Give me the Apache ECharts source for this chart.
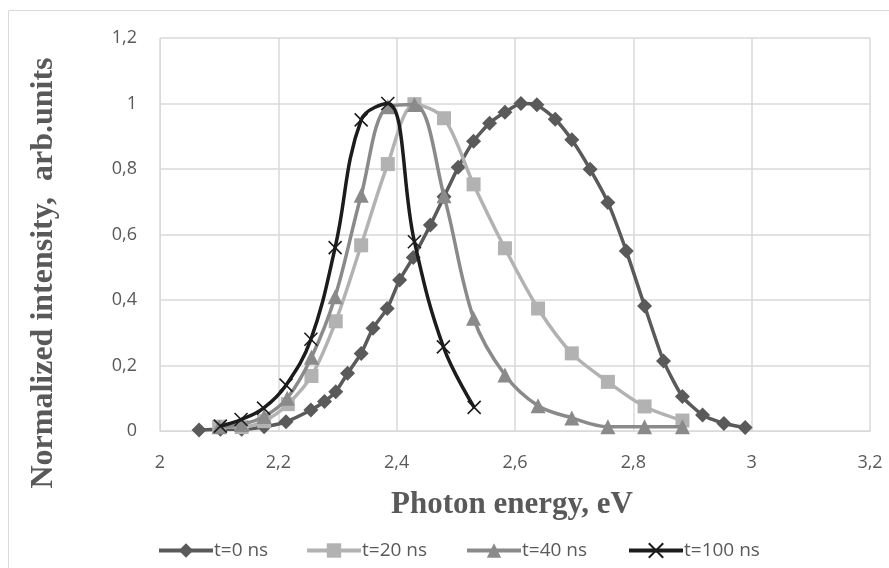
<!DOCTYPE html>
<html>
<head>
<meta charset="utf-8">
<script src="https://cdn.jsdelivr.net/npm/echarts@6/dist/echarts.min.js"></script>
<style>html,body{margin:0;padding:0;background:#fff;}#c{width:889px;height:568px;}</style>
</head>
<body>
<div id="c"></div>
<script>
const seriesNames = ['t=0 ns', 't=20 ns', 't=40 ns', 't=100 ns'];

const t0x = [2.066, 2.102, 2.138, 2.176, 2.213, 2.255, 2.278, 2.297, 2.317, 2.340, 2.360, 2.384, 2.405, 2.428, 2.457, 2.480, 2.504, 2.530, 2.557, 2.583, 2.610, 2.637, 2.668, 2.696, 2.727, 2.757, 2.788, 2.819, 2.851, 2.883, 2.917, 2.953, 2.989];
const t0y = [0.003, 0.005, 0.005, 0.013, 0.028, 0.064, 0.090, 0.120, 0.176, 0.237, 0.314, 0.374, 0.461, 0.530, 0.629, 0.715, 0.805, 0.885, 0.940, 0.973, 1.000, 0.996, 0.952, 0.889, 0.799, 0.698, 0.550, 0.382, 0.214, 0.105, 0.049, 0.023, 0.011];

const t20x = [2.100, 2.138, 2.176, 2.216, 2.256, 2.297, 2.340, 2.385, 2.430, 2.480, 2.530, 2.583, 2.639, 2.696, 2.757, 2.819, 2.883];
const t20y = [0.013, 0.012, 0.030, 0.082, 0.168, 0.335, 0.567, 0.815, 0.998, 0.955, 0.753, 0.558, 0.374, 0.237, 0.150, 0.075, 0.032];

const t40x = [2.100, 2.138, 2.176, 2.215, 2.256, 2.296, 2.340, 2.385, 2.430, 2.480, 2.530, 2.583, 2.639, 2.696, 2.757, 2.819, 2.883];
const t40y = [0.013, 0.020, 0.044, 0.100, 0.225, 0.410, 0.720, 0.990, 0.997, 0.718, 0.344, 0.171, 0.077, 0.040, 0.013, 0.013, 0.013];

const t100x = [2.102, 2.137, 2.175, 2.213, 2.255, 2.296, 2.340, 2.385, 2.430, 2.479, 2.531];
const t100y = [0.015, 0.035, 0.070, 0.140, 0.280, 0.560, 0.950, 1.000, 0.578, 0.257, 0.072];

const xTicks = [2, 2.2, 2.4, 2.6, 2.8, 3, 3.2];
const yTicks = [0, 0.2, 0.4, 0.6, 0.8, 1, 1.2];

function pairs(xs, ys) { return xs.map((x, i) => [x, ys[i]]); }
function fmt(v) { return String(Math.round(v * 10) / 10).replace('.', ','); }

const colors = ['#5a5a5a', '#b2b2b2', '#8a8a8a', '#1c1c1c'];
const chart = echarts.init(document.getElementById('c'));
const crossPath = 'path://M0,0L10,10M10,0L0,10';
const legendLefts = [157, 305, 465, 627];

const legends = seriesNames.map((n, i) => ({
  left: legendLefts[i], top: 541, padding: 0,
  itemWidth: 54, itemHeight: 18, itemGap: 0,
  lineStyle: { width: 4 },
  textStyle: { fontFamily: 'Open Sans', fontSize: 19, color: '#595959', padding: [0, 0, 0, -4] },
  data: [n]
}));

chart.setOption({
  animation: false,
  backgroundColor: '#fff',
  grid: { left: 160, right: 19, top: 38, bottom: 137 },
  graphic: [
    { type: 'rect', shape: { x: 8.5, y: 10.5, width: 1000, height: 1000 }, style: { fill: 'none', stroke: '#d9d9d9', lineWidth: 1 }, silent: true, z: -1 },
    { type: 'text', x: 44, y: 273, rotation: Math.PI / 2,
      style: { text: 'Normalized intensity,  arb.units', fontFamily: 'Liberation Serif', fontWeight: 'bold', fontSize: 32, fill: '#595959', align: 'center', verticalAlign: 'middle' } },
    { type: 'text', x: 512, y: 505,
      style: { text: 'Photon energy, eV', fontFamily: 'Liberation Serif', fontWeight: 'bold', fontSize: 31, fill: '#595959', align: 'center', verticalAlign: 'middle' } }
  ],
  legend: legends,
  xAxis: {
    type: 'value', min: 2, max: 3.2, interval: 0.2,
    axisLine: { show: true, lineStyle: { color: '#d9d9d9', width: 1 } },
    axisTick: { show: false },
    axisLabel: { margin: 23, fontFamily: 'Open Sans', fontSize: 18, color: '#595959', formatter: v => fmt(v) },
    splitLine: { show: true, lineStyle: { color: '#d9d9d9', width: 1.5 } }
  },
  yAxis: {
    type: 'value', min: 0, max: 1.2, interval: 0.2,
    axisLine: { show: true, lineStyle: { color: '#d9d9d9', width: 1 } },
    axisTick: { show: false },
    axisLabel: { margin: 23, fontFamily: 'Open Sans', fontSize: 18, color: '#595959', formatter: v => fmt(v) },
    splitLine: { show: true, lineStyle: { color: '#d9d9d9', width: 1.5 } }
  },
  series: [
    { name: seriesNames[0], type: 'line', data: pairs(t0x, t0y), smooth: 0.2,
      symbol: 'diamond', symbolSize: 15, lineStyle: { color: colors[0], width: 3.5 },
      itemStyle: { color: colors[0] }, z: 2 },
    { name: seriesNames[1], type: 'line', data: pairs(t20x, t20y), smooth: 0.3,
      symbol: 'rect', symbolSize: 14, lineStyle: { color: colors[1], width: 3.5 },
      itemStyle: { color: colors[1] }, z: 3 },
    { name: seriesNames[2], type: 'line', data: pairs(t40x, t40y), smooth: 0.35,
      symbol: 'triangle', symbolSize: 15, lineStyle: { color: colors[2], width: 3.5 },
      itemStyle: { color: colors[2] }, z: 4 },
    { name: seriesNames[3], type: 'line', data: pairs(t100x, t100y), smooth: 0.4,
      symbol: crossPath, symbolSize: 13, lineStyle: { color: colors[3], width: 3.5 },
      itemStyle: { color: colors[3], borderColor: colors[3], borderWidth: 1.6 }, z: 5 }
  ]
});
</script>
</body>
</html>
